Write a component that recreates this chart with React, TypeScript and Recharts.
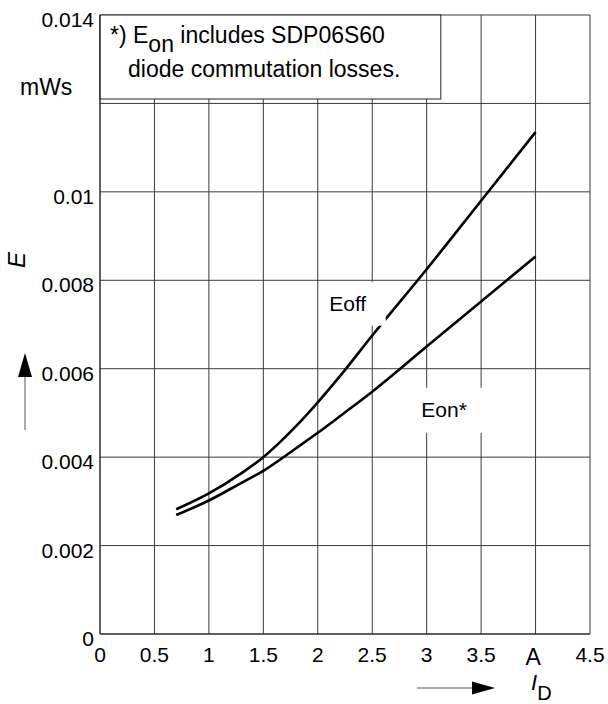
import React from 'react';
import {
  LineChart,
  Line,
  XAxis,
  YAxis,
  CartesianGrid,
  ReferenceArea,
  ReferenceDot,
} from 'recharts';

// drain current I_D in A
const current = [0.7, 1, 1.3, 1.5, 1.8, 2, 2.2, 2.5, 3, 3.5, 4];
// switching energy in mWs
const eoff = [0.00282, 0.00318, 0.00364, 0.004, 0.0047, 0.00524, 0.00582, 0.00675, 0.00825, 0.0098, 0.01135];
const eon = [0.00269, 0.00302, 0.00342, 0.00369, 0.0042, 0.00455, 0.00492, 0.00548, 0.0065, 0.00752, 0.00854];

const xTicks = [0, 0.5, 1, 1.5, 2, 2.5, 3, 3.5, 4, 4.5];
const yTicks = [0, 0.002, 0.004, 0.006, 0.008, 0.01, 0.012, 0.014];

const data = current.map((id, i) => ({ id, eoff: eoff[i], eon: eon[i] }));

const FONT = '"Liberation Sans", Arial, Helvetica, sans-serif';

const YTick = ({ x, y, payload }: any) => {
  if (payload.value === 0.012) return null;
  return (
    <text x={x} y={y + 12} textAnchor="end" fontSize={21} fontFamily={FONT} fill="#000">
      {String(payload.value)}
    </text>
  );
};

const XTick = ({ x, y, payload }: any) => {
  if (payload.value === 4) {
    return (
      <text x={x - 2.5} y={y + 31} textAnchor="middle" fontSize={23} fontFamily={FONT} fill="#000">
        A
      </text>
    );
  }
  return (
    <text x={x} y={y + 28} textAnchor="middle" fontSize={21} fontFamily={FONT} fill="#000">
      {String(payload.value)}
    </text>
  );
};

const YTitle = ({ viewBox }: any) => {
  const vb = viewBox || { x: 0, y: 15 };
  return (
    <g fontFamily={FONT}>
      <text
        x={vb.x + 25}
        y={vb.y + 245}
        transform={`rotate(-90 ${vb.x + 25} ${vb.y + 245})`}
        textAnchor="middle"
        fontSize={24}
        fontStyle="italic"
        fill="#000"
      >
        E
      </text>
      <line x1={vb.x + 25} y1={vb.y + 415} x2={vb.x + 25} y2={vb.y + 360} stroke="#555" strokeWidth={1} />
      <polygon
        points={`${vb.x + 18},${vb.y + 362} ${vb.x + 32},${vb.y + 362} ${vb.x + 25},${vb.y + 338}`}
        fill="#000"
      />
      <text x={vb.x + 20} y={vb.y + 80} fontSize={23} fill="#000">
        mWs
      </text>
    </g>
  );
};

const XTitle = ({ viewBox }: any) => {
  const vb = viewBox || { x: 100, y: 634 };
  return (
    <g fontFamily={FONT}>
      <line x1={417} y1={vb.y + 54} x2={475} y2={vb.y + 54} stroke="#555" strokeWidth={1} />
      <polygon points={`472,${vb.y + 47.5} 472,${vb.y + 60.5} 495,${vb.y + 54}`} fill="#000" />
      <text x={531} y={vb.y + 56} fontSize={22} fill="#000">
        <tspan fontStyle="italic">I</tspan>
        <tspan dy={10} fontSize={20}>D</tspan>
      </text>
    </g>
  );
};

const NoteBox = ({ x, y, width, height }: any) => (
  <g fontFamily={FONT} fontSize={23} fill="#000">
    <rect x={x} y={y} width={width} height={height} fill="#fff" stroke="#222" strokeWidth={1} />
    <text x={x + 10} y={y + 28}>
      *) E<tspan dy={9}>on</tspan>
      <tspan dy={-9}> includes SDP06S60</tspan>
    </text>
    <text x={x + 28} y={y + 62}>
      diode commutation losses.
    </text>
  </g>
);

const curveLabel = (text: string, w: number, h: number, dx: number) => (p: any) => (
  <g>
    <rect x={p.cx - w / 2} y={p.cy - h / 2} width={w} height={h} fill="#fff" />
    <text
      x={p.cx + dx}
      y={p.cy + 7}
      textAnchor="middle"
      fontSize={21}
      fontFamily={FONT}
      fill="#000"
    >
      {text}
    </text>
  </g>
);

export default function App() {
  return (
    <div style={{ position: 'absolute', left: 0, top: 0, background: '#fff' }}>
      <LineChart width={608} height={704} data={data} margin={{ top: 15, right: 18, bottom: 40, left: 0 }}>
        <CartesianGrid stroke="#3a3a3a" strokeWidth={1} />
        <XAxis
          dataKey="id"
          type="number"
          domain={[0, 4.5]}
          ticks={xTicks}
          tick={<XTick />}
          tickLine={false}
          tickSize={0}
          tickMargin={0}
          height={30}
          axisLine={{ stroke: '#222' }}
          label={<XTitle />}
          interval={0}
        />
        <YAxis
          type="number"
          domain={[0, 0.014]}
          ticks={yTicks}
          tick={<YTick />}
          tickLine={false}
          tickSize={0}
          tickMargin={6}
          width={100}
          axisLine={{ stroke: '#222' }}
          label={<YTitle />}
          interval={0}
        />
        <ReferenceArea
          x1={0}
          x2={3.13}
          y1={0.0121}
          y2={0.014}
          shape={<NoteBox />}
          ifOverflow="visible"
        />
        <Line
          dataKey="eoff"
          type="monotone"
          stroke="#000"
          strokeWidth={2.6}
          dot={false}
          isAnimationActive={false}
        />
        <Line
          dataKey="eon"
          type="monotone"
          stroke="#000"
          strokeWidth={2.6}
          dot={false}
          isAnimationActive={false}
        />
        <ReferenceDot x={2.33} y={0.00747} r={1} shape={curveLabel('Eoff', 64, 44, -6)} />
        <ReferenceDot x={3.16} y={0.00506} r={1} shape={curveLabel('Eon*', 84, 45, 0)} />
      </LineChart>
    </div>
  );
}
